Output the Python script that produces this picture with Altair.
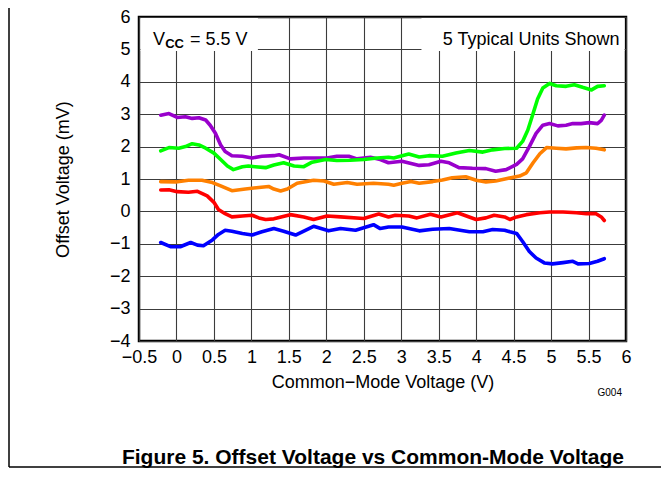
import altair as alt
import pandas as pd

# ---- data ----
purple_x = [-0.21, -0.10, 0.01, 0.12, 0.21, 0.30, 0.39, 0.45, 0.52, 0.59, 0.65, 0.74, 0.88, 1.01, 1.14, 1.30,
            1.37, 1.52, 1.70, 1.88, 2.01, 2.14, 2.30, 2.41, 2.59, 2.72, 2.83,
            3.01, 3.24, 3.37, 3.53, 3.64, 3.77, 3.95, 4.13, 4.26, 4.40, 4.54, 4.62, 4.71, 4.80, 4.89,
            4.98, 5.09, 5.20, 5.29, 5.40, 5.51, 5.62, 5.67, 5.71]
purple_y = [2.97, 3.02, 2.90, 2.92, 2.87, 2.89, 2.82, 2.66, 2.41, 2.05, 1.85, 1.72, 1.70, 1.65, 1.70, 1.72,
            1.75, 1.62, 1.65, 1.65, 1.65, 1.70, 1.70, 1.62, 1.67, 1.60, 1.50,
            1.55, 1.42, 1.44, 1.55, 1.50, 1.35, 1.33, 1.32, 1.24, 1.29, 1.45, 1.62, 2.00, 2.41, 2.66,
            2.71, 2.64, 2.66, 2.71, 2.71, 2.74, 2.71, 2.81, 2.97]

green_x = [-0.21, -0.10, 0.03, 0.12, 0.21, 0.30, 0.39, 0.50, 0.59, 0.68, 0.76, 0.88, 0.96, 1.05, 1.19, 1.30,
           1.43, 1.57, 1.70, 1.81, 1.99, 2.14, 2.32, 2.50, 2.68, 2.83,
           2.90, 3.10, 3.24, 3.37, 3.55, 3.73, 3.91, 4.09, 4.22, 4.38, 4.54, 4.62, 4.69, 4.76, 4.82, 4.89,
           4.98, 5.07, 5.20, 5.31, 5.42, 5.54, 5.62, 5.71]
green_y = [1.87, 1.97, 1.95, 2.00, 2.09, 2.05, 1.95, 1.80, 1.60, 1.40, 1.29, 1.38, 1.40, 1.38, 1.35, 1.43,
           1.50, 1.40, 1.38, 1.52, 1.60, 1.57, 1.58, 1.60, 1.65, 1.67,
           1.65, 1.77, 1.68, 1.72, 1.70, 1.80, 1.88, 1.83, 1.90, 1.94, 1.95, 2.16, 2.51, 3.02, 3.47, 3.81,
           3.95, 3.88, 3.86, 3.91, 3.83, 3.75, 3.86, 3.88]

orange_x = [-0.21, -0.01, 0.16, 0.34, 0.48, 0.59, 0.74, 0.92, 1.10, 1.23, 1.30,
            1.39, 1.48, 1.61, 1.83, 1.97, 2.10, 2.28, 2.41, 2.63, 2.83,
            2.90, 3.01, 3.13, 3.24, 3.42, 3.55, 3.68, 3.86, 4.00, 4.13, 4.26, 4.40,
            4.58, 4.67, 4.76, 4.85, 4.94, 5.07, 5.20, 5.34, 5.47, 5.60, 5.71]
orange_y = [0.92, 0.91, 0.96, 0.96, 0.89, 0.79, 0.64, 0.69, 0.74, 0.77, 0.69,
            0.63, 0.69, 0.87, 0.96, 0.94, 0.84, 0.89, 0.84, 0.87, 0.84,
            0.81, 0.87, 0.92, 0.87, 0.92, 0.97, 1.04, 1.07, 0.96, 0.91, 0.94, 1.01,
            1.09, 1.19, 1.50, 1.78, 1.97, 1.95, 1.93, 1.96, 1.97, 1.95, 1.90]

red_x = [-0.21, -0.10, 0.01, 0.16, 0.28, 0.41, 0.50, 0.56, 0.65, 0.74, 0.88, 1.01, 1.10, 1.19, 1.30,
         1.52, 1.70, 1.83, 2.01, 2.19, 2.50, 2.70, 2.83,
         2.92, 3.10, 3.21, 3.39, 3.53, 3.75, 4.00, 4.13, 4.24, 4.38,
         4.45, 4.54, 4.67, 4.85, 4.98, 5.16, 5.34, 5.47, 5.60, 5.67, 5.71]
red_y = [0.66, 0.67, 0.61, 0.59, 0.62, 0.48, 0.28, 0.06, -0.07, -0.17, -0.14, -0.12, -0.20, -0.25, -0.23,
         -0.10, -0.17, -0.25, -0.14, -0.17, -0.22, -0.08, -0.17,
         -0.12, -0.14, -0.20, -0.09, -0.17, -0.04, -0.25, -0.20, -0.12, -0.17,
         -0.25, -0.17, -0.10, -0.04, -0.02, -0.02, -0.04, -0.07, -0.07, -0.17, -0.28]

blue_x = [-0.21, -0.08, 0.05, 0.19, 0.28, 0.36, 0.48, 0.56, 0.65, 0.74, 0.88, 1.01, 1.14, 1.30,
          1.43, 1.59, 1.83, 2.03, 2.19, 2.39, 2.63, 2.72, 2.83,
          3.01, 3.24, 3.42, 3.64, 3.91, 4.09, 4.22, 4.38,
          4.45, 4.54, 4.62, 4.71, 4.80, 4.91, 5.02, 5.16, 5.29, 5.36, 5.51, 5.62, 5.71]
blue_y = [-0.96, -1.09, -1.09, -0.96, -1.04, -1.06, -0.88, -0.71, -0.58, -0.61, -0.68, -0.73, -0.63, -0.53,
          -0.61, -0.73, -0.46, -0.60, -0.53, -0.58, -0.41, -0.53, -0.48,
          -0.48, -0.60, -0.55, -0.53, -0.63, -0.63, -0.56, -0.58,
          -0.63, -0.68, -0.93, -1.24, -1.44, -1.59, -1.62, -1.58, -1.54, -1.62, -1.61, -1.54, -1.46]

series_names = ["Unit A", "Unit B", "Unit C", "Unit D", "Unit E"]
series_colors = ["#9900CC", "#00FF00", "#FF8000", "#FF0000", "#0000FF"]
series_xs = [purple_x, green_x, orange_x, red_x, blue_x]
series_ys = [purple_y, green_y, orange_y, red_y, blue_y]

x_ticks = [-0.5, 0, 0.5, 1, 1.5, 2, 2.5, 3, 3.5, 4, 4.5, 5, 5.5, 6]
y_ticks = [-4, -3, -2, -1, 0, 1, 2, 3, 4, 5, 6]

x_title = "Common\u2212Mode Voltage (V)"
y_title = "Offset Voltage (mV)"
caption = "Figure 5. Offset Voltage vs Common-Mode Voltage"
units_note = "5 Typical Units Shown"
code_note = "G004"

rows = []
for name, xs, ys in zip(series_names, series_xs, series_ys):
    for i, (xv, yv) in enumerate(zip(xs, ys)):
        rows.append({"unit": name, "vcm": xv, "vos": yv, "i": i})
df = pd.DataFrame(rows)

FONT = "Liberation Sans"
FS = 18
W, H = 487, 324

xscale = alt.Scale(domain=[-0.5, 6], nice=False, zero=False)
yscale = alt.Scale(domain=[-4, 6], nice=False, zero=False)

xaxis = alt.Axis(values=x_ticks, format="~g", title=x_title, grid=True, ticks=False, domain=False,
                 labelPadding=7, labelFontSize=FS, titleFontSize=FS, titleFontWeight="normal",
                 titleY=46, titleBaseline="alphabetic", labelFlush=False, labelOverlap=False)
yaxis = alt.Axis(values=y_ticks, format="~g", title=y_title, grid=True, ticks=False, domain=False,
                 labelPadding=9, labelFontSize=FS, titleFontSize=FS, titleFontWeight="normal",
                 titleX=-71, titleBaseline="alphabetic", labelFlush=False, labelOverlap=False)

X = lambda f: alt.X(f, scale=xscale, axis=xaxis)
Y = lambda f: alt.Y(f, scale=yscale, axis=yaxis)

# white boxes behind the annotations (cover grid)
boxes = pd.DataFrame({"x1": [-0.48, 3.27], "x2": [1.087, 5.98], "y1": [4.95, 4.95], "y2": [5.97, 5.97]})
box_layer = alt.Chart(boxes).mark_rect(color="white").encode(
    x=X("x1:Q"), x2="x2:Q", y=Y("y1:Q"), y2="y2:Q")

lines = alt.Chart(df).mark_line(strokeWidth=3.6, strokeJoin="round", strokeCap="round").encode(
    x=X("vcm:Q"),
    y=Y("vos:Q"),
    color=alt.Color("unit:N", scale=alt.Scale(domain=series_names, range=series_colors), legend=None),
    order="i:Q",
    detail="unit:N")

def label(text, x, y, size=FS, weight="normal", align="left"):
    return alt.Chart(alt.Data(values=[{"t": text, "x": x, "y": y}])).mark_text(
        font=FONT, fontSize=size, fontWeight=weight, align=align, baseline="alphabetic", color="black"
    ).encode(x=X("x:Q"), y=Y("y:Q"), text="t:N")

t_units = label(units_note, 5.913, 5.15, align="right")
t_v = label("V", -0.313, 5.15)
t_cc = label("CC", -0.15, 5.03, size=13, weight="bold")
t_eq = label("= 5.5 V", 0.18, 5.15)

one = alt.Data(values=[{"a": 1}])
caption_layer = alt.Chart(one).mark_text(font=FONT, fontSize=21, fontWeight="bold", align="center",
                                         baseline="alphabetic", color="black").encode(
    x=alt.value(234), y=alt.value(447), text=alt.value(caption))
code_layer = alt.Chart(one).mark_text(font=FONT, fontSize=10, align="right", baseline="alphabetic",
                                      color="black").encode(
    x=alt.value(483), y=alt.value(379), text=alt.value(code_note))

frame_left = alt.Chart(one).mark_rule(color="black", strokeWidth=1.5).encode(
    x=alt.value(-130), y=alt.value(-20), y2=alt.value(450))
frame_bottom = alt.Chart(one).mark_rule(color="black", strokeWidth=1.5).encode(
    x=alt.value(-130), x2=alt.value(540), y=alt.value(450))

chart = alt.layer(box_layer, lines, t_units, t_v, t_cc, t_eq, caption_layer, code_layer,
                  frame_left, frame_bottom).properties(
    width=W, height=H,
    autosize=alt.AutoSizeParams(type="none"),
    padding={"left": 131, "top": 9, "right": 35, "bottom": 132},
    background="white"
).configure_view(
    stroke="black", strokeWidth=2.5
).configure_axis(
    labelFont=FONT, titleFont=FONT, labelColor="black", titleColor="black",
    gridColor="#3c3c3c", gridWidth=1.1, gridOpacity=1
)

chart.save("out.html", embed_options={"renderer": "svg", "actions": False})
